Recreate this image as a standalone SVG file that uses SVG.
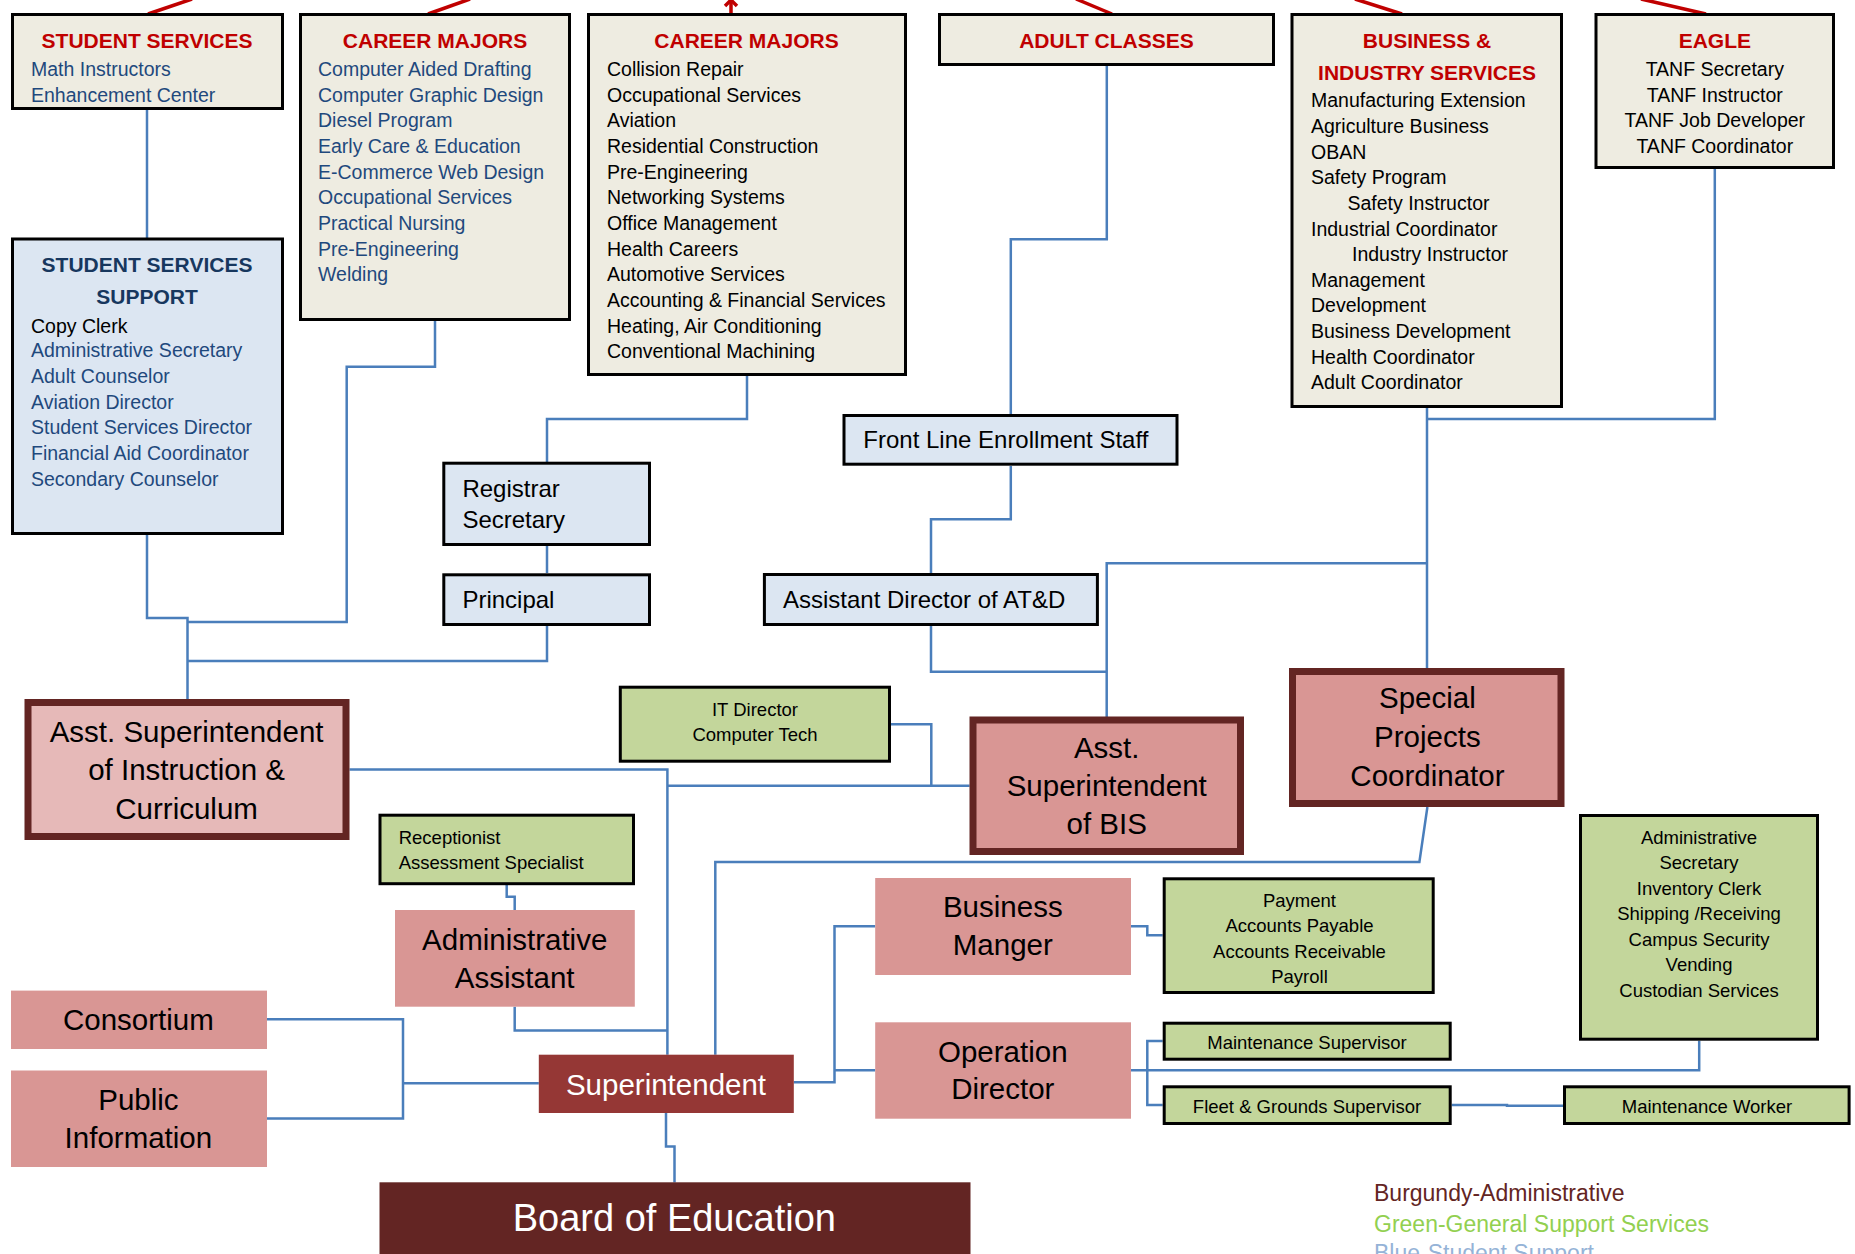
<svg xmlns="http://www.w3.org/2000/svg" width="1855" height="1254" viewBox="0 0 1855 1254">
  <style>
    text { font-family: "Liberation Sans", Arial, sans-serif; }
    .beige { fill: #EEECE1; stroke: #000; stroke-width: 3; }
    .blue { fill: #DCE6F2; stroke: #000; stroke-width: 3; }
    .green { fill: #C3D69B; stroke: #000; stroke-width: 3; }
    .bur { fill: #D99694; stroke: #632523; stroke-width: 7; }
    .pink { fill: #D99694; }
    .hdr { font-size: 21px; font-weight: bold; fill: #C00000; text-anchor: middle; }
    .item { font-size: 19.5px; fill: #000; }
    .navy { fill: #1F497D; }
    .mid { font-size: 24px; fill: #000; }
    .big { font-size: 29.5px; fill: #000; text-anchor: middle; }
    .sm { font-size: 18.5px; fill: #000; }
    .c { text-anchor: middle; }
    .conn { fill: none; stroke: #4A7EBB; stroke-width: 2.5; }
    .up { fill: none; stroke: #C00000; stroke-width: 3.5; }
  </style>

  <!-- red reporting lines leaving the top edge -->
  <g id="upper-links">
    <line class="up" x1="148" y1="14" x2="192" y2="-1"/>
    <line class="up" x1="428" y1="14" x2="470" y2="-1"/>
    <line class="up" x1="731" y1="14" x2="731" y2="-1"/>
    <polyline class="up" points="725,6 731,0 737,6"/>
    <line class="up" x1="1112" y1="14" x2="1076" y2="-1"/>
    <line class="up" x1="1402" y1="14" x2="1355" y2="-1"/>
    <line class="up" x1="1706" y1="14" x2="1641" y2="-1"/>
  </g>

  <!-- connectors -->
  <g id="connectors">
    <path class="conn" d="M147 110 V238"/>
    <path class="conn" d="M147 535 V618 H187.5 V700"/>
    <path class="conn" d="M187.5 622 H346.7 V366.7 H435 V321"/>
    <path class="conn" d="M187.5 661 H547 V626"/>
    <path class="conn" d="M547 462 V419 H747 V376"/>
    <path class="conn" d="M547 546 V573"/>
    <path class="conn" d="M1106.8 66 V239.3 H1010.8 V414"/>
    <path class="conn" d="M1010.8 466 V519.3 H931 V573"/>
    <path class="conn" d="M931 626 V671.7 H1106.7"/>
    <path class="conn" d="M1106.7 717 V563.3 H1427"/>
    <path class="conn" d="M1427 408 V668"/>
    <path class="conn" d="M1427 419 H1714.8 V169"/>
    <path class="conn" d="M349.5 769.5 H667.4 V1054.7"/>
    <path class="conn" d="M667.4 785.7 H969.6"/>
    <path class="conn" d="M891 724.3 H931.3 V785.7"/>
    <path class="conn" d="M1427.4 807 L1419.4 862 H715.3 V1054.7"/>
    <path class="conn" d="M506.7 885 V896.8 H514.7 V910"/>
    <path class="conn" d="M514.7 1006.7 V1030.5 H667.4"/>
    <path class="conn" d="M267 1019.2 H403 V1118.5 H267"/>
    <path class="conn" d="M403 1083.3 H538.8"/>
    <path class="conn" d="M666 1113 V1146.5 H674.5 V1182.5"/>
    <path class="conn" d="M793.8 1082.3 H834.5 V926.3 H875.2"/>
    <path class="conn" d="M834.5 1070.3 H875.2"/>
    <path class="conn" d="M1131 926.3 H1147.3 V935.3 H1162.7"/>
    <path class="conn" d="M1131 1070.3 H1699.2 V1040.7"/>
    <path class="conn" d="M1162.7 1041 H1147.3 V1105 H1162.7"/>
    <path class="conn" d="M1451.7 1105 H1507 V1105.7 H1563"/>
  </g>

  <g id="student-services">
    <rect class="beige" x="12.5" y="14.5" width="270" height="94"/>
    <text class="hdr" x="147" y="48">STUDENT SERVICES</text>
    <text class="item navy" x="31" y="76">Math Instructors</text>
    <text class="item navy" x="31" y="101.7">Enhancement Center</text>
  </g>

  <g id="career-majors-a">
    <rect class="beige" x="300.5" y="14.5" width="269" height="305"/>
    <text class="hdr" x="435" y="48">CAREER MAJORS</text>
    <g class="item navy">
      <text x="318" y="76">Computer Aided Drafting</text>
      <text x="318" y="101.7">Computer Graphic Design</text>
      <text x="318" y="127.4">Diesel Program</text>
      <text x="318" y="153">Early Care &amp; Education</text>
      <text x="318" y="178.7">E-Commerce Web Design</text>
      <text x="318" y="204.4">Occupational Services</text>
      <text x="318" y="230">Practical Nursing</text>
      <text x="318" y="255.7">Pre-Engineering</text>
      <text x="318" y="281.4">Welding</text>
    </g>
  </g>

  <g id="career-majors-b">
    <rect class="beige" x="588.5" y="14.5" width="317" height="360"/>
    <text class="hdr" x="746.5" y="48">CAREER MAJORS</text>
    <g class="item">
      <text x="607" y="76">Collision Repair</text>
      <text x="607" y="101.7">Occupational Services</text>
      <text x="607" y="127.4">Aviation</text>
      <text x="607" y="153">Residential Construction</text>
      <text x="607" y="178.7">Pre-Engineering</text>
      <text x="607" y="204.4">Networking Systems</text>
      <text x="607" y="230">Office Management</text>
      <text x="607" y="255.7">Health Careers</text>
      <text x="607" y="281.4">Automotive Services</text>
      <text x="607" y="307">Accounting &amp; Financial Services</text>
      <text x="607" y="332.7">Heating, Air Conditioning</text>
      <text x="607" y="358.4">Conventional Machining</text>
    </g>
  </g>

  <g id="adult-classes">
    <rect class="beige" x="939.5" y="14.5" width="334" height="50"/>
    <text class="hdr" x="1106.5" y="48">ADULT CLASSES</text>
  </g>

  <g id="business-industry">
    <rect class="beige" x="1292" y="14.5" width="269.5" height="392"/>
    <text class="hdr" x="1427" y="48">BUSINESS &amp;</text>
    <text class="hdr" x="1427" y="80">INDUSTRY SERVICES</text>
    <g class="item">
      <text x="1311" y="107.3">Manufacturing Extension</text>
      <text x="1311" y="133">Agriculture Business</text>
      <text x="1311" y="158.7">OBAN</text>
      <text x="1311" y="184.3">Safety Program</text>
      <text x="1347.5" y="210">Safety Instructor</text>
      <text x="1311" y="235.7">Industrial Coordinator</text>
      <text x="1352" y="261.3">Industry Instructor</text>
      <text x="1311" y="287">Management</text>
      <text x="1311" y="312.3">Development</text>
      <text x="1311" y="338">Business Development</text>
      <text x="1311" y="363.7">Health Coordinator</text>
      <text x="1311" y="389.3">Adult Coordinator</text>
    </g>
  </g>

  <g id="eagle">
    <rect class="beige" x="1596" y="14.5" width="237.5" height="153"/>
    <text class="hdr" x="1714.8" y="48">EAGLE</text>
    <g class="item c">
      <text x="1714.8" y="76">TANF Secretary</text>
      <text x="1714.8" y="101.7">TANF Instructor</text>
      <text x="1714.8" y="127.4">TANF Job Developer</text>
      <text x="1714.8" y="153">TANF Coordinator</text>
    </g>
  </g>

  <g id="student-services-support">
    <rect class="blue" x="12.5" y="239" width="270" height="294.5"/>
    <text class="hdr" x="147" y="272" style="fill:#17375E">STUDENT SERVICES</text>
    <text class="hdr" x="147" y="304" style="fill:#17375E">SUPPORT</text>
    <text class="item" x="31" y="332.7">Copy Clerk</text>
    <g class="item navy">
      <text x="31" y="357.3">Administrative Secretary</text>
      <text x="31" y="383">Adult Counselor</text>
      <text x="31" y="408.7">Aviation Director</text>
      <text x="31" y="434.3">Student Services Director</text>
      <text x="31" y="460">Financial Aid Coordinator</text>
      <text x="31" y="485.7">Secondary Counselor</text>
    </g>
  </g>

  <g id="registrar">
    <rect class="blue" x="443.8" y="463.2" width="205.7" height="81.3"/>
    <text class="mid" x="462.4" y="496.7">Registrar</text>
    <text class="mid" x="462.4" y="528">Secretary</text>
  </g>

  <g id="principal">
    <rect class="blue" x="443.8" y="574.8" width="205.7" height="49.7"/>
    <text class="mid" x="462.4" y="608.3">Principal</text>
  </g>

  <g id="front-line-enrollment">
    <rect class="blue" x="844" y="415.5" width="333" height="48.7"/>
    <text class="mid" x="863.3" y="448.3">Front Line Enrollment Staff</text>
  </g>

  <g id="assistant-director-atd">
    <rect class="blue" x="764.4" y="574.5" width="333" height="50"/>
    <text class="mid" x="783" y="608">Assistant Director of AT&amp;D</text>
  </g>

  <g id="asst-supt-instruction">
    <rect class="bur" x="28" y="702.5" width="318" height="134" style="fill:#E6B9B8"/>
    <text class="big" x="186.6" y="742">Asst. Superintendent</text>
    <text class="big" x="186.6" y="780">of Instruction &amp;</text>
    <text class="big" x="186.6" y="818.5">Curriculum</text>
  </g>

  <g id="asst-supt-bis">
    <rect class="bur" x="973" y="720" width="267.5" height="131.5"/>
    <text class="big" x="1106.7" y="758">Asst.</text>
    <text class="big" x="1106.7" y="796">Superintendent</text>
    <text class="big" x="1106.7" y="834">of BIS</text>
  </g>

  <g id="special-projects">
    <rect class="bur" x="1292.5" y="671.5" width="268.5" height="132"/>
    <text class="big" x="1427.4" y="708">Special</text>
    <text class="big" x="1427.4" y="746.7">Projects</text>
    <text class="big" x="1427.4" y="785.5">Coordinator</text>
  </g>

  <g id="it-director">
    <rect class="green" x="620.3" y="687.2" width="269.2" height="74"/>
    <text class="sm c" x="755" y="716">IT Director</text>
    <text class="sm c" x="755" y="740.7">Computer Tech</text>
  </g>

  <g id="receptionist">
    <rect class="green" x="380" y="815.2" width="253.5" height="68.5"/>
    <text class="sm" x="398.7" y="843.7">Receptionist</text>
    <text class="sm" x="398.7" y="868.6">Assessment Specialist</text>
  </g>

  <g id="administrative-assistant">
    <rect class="pink" x="395" y="910" width="239.8" height="96.7"/>
    <text class="big" x="514.7" y="950">Administrative</text>
    <text class="big" x="514.7" y="987.7">Assistant</text>
  </g>

  <g id="consortium">
    <rect class="pink" x="11" y="990.6" width="256" height="58.4"/>
    <text class="big" x="138.4" y="1029.8">Consortium</text>
  </g>

  <g id="public-information">
    <rect class="pink" x="11" y="1070.5" width="256" height="96.5"/>
    <text class="big" x="138.4" y="1109.7">Public</text>
    <text class="big" x="138.4" y="1148">Information</text>
  </g>

  <g id="superintendent">
    <rect x="538.8" y="1054.7" width="255" height="58.3" fill="#953735"/>
    <text class="big" x="666" y="1095" style="fill:#fff">Superintendent</text>
  </g>

  <g id="board-of-education">
    <rect x="379.5" y="1182.3" width="591" height="80" fill="#632523"/>
    <text x="674.3" y="1231" text-anchor="middle" style="font-size:38px;fill:#fff">Board of Education</text>
  </g>

  <g id="business-manager">
    <rect class="pink" x="875.2" y="878" width="255.8" height="97"/>
    <text class="big" x="1002.8" y="916.7">Business</text>
    <text class="big" x="1002.8" y="955">Manger</text>
  </g>

  <g id="operation-director">
    <rect class="pink" x="875.2" y="1022.3" width="255.8" height="96.4"/>
    <text class="big" x="1002.8" y="1061.7">Operation</text>
    <text class="big" x="1002.8" y="1099.3">Director</text>
  </g>

  <g id="finance-staff">
    <rect class="green" x="1164.2" y="878.8" width="269" height="113.7"/>
    <g class="sm c">
      <text x="1299.5" y="907.3">Payment</text>
      <text x="1299.5" y="932.3">Accounts Payable</text>
      <text x="1299.5" y="957.7">Accounts Receivable</text>
      <text x="1299.5" y="983.3">Payroll</text>
    </g>
  </g>

  <g id="operations-staff">
    <rect class="green" x="1580.5" y="815.5" width="237" height="223.7"/>
    <g class="sm c">
      <text x="1699" y="843.5">Administrative</text>
      <text x="1699" y="869">Secretary</text>
      <text x="1699" y="894.5">Inventory Clerk</text>
      <text x="1699" y="920">Shipping /Receiving</text>
      <text x="1699" y="945.7">Campus Security</text>
      <text x="1699" y="971.3">Vending</text>
      <text x="1699" y="996.7">Custodian Services</text>
    </g>
  </g>

  <g id="maintenance-supervisor">
    <rect class="green" x="1164.2" y="1023.2" width="286" height="36"/>
    <text class="sm c" x="1307" y="1049">Maintenance Supervisor</text>
  </g>

  <g id="fleet-grounds">
    <rect class="green" x="1164.2" y="1086.8" width="286" height="36.7"/>
    <text class="sm c" x="1307" y="1113">Fleet &amp; Grounds Supervisor</text>
  </g>

  <g id="maintenance-worker">
    <rect class="green" x="1564.5" y="1086.8" width="284.6" height="36.7"/>
    <text class="sm c" x="1707" y="1113">Maintenance Worker</text>
  </g>

  <g id="legend" style="font-size:23px">
    <text x="1374" y="1200.7" fill="#632523">Burgundy-Administrative</text>
    <text x="1374" y="1232" fill="#92D050">Green-General Support Services</text>
    <text x="1374" y="1261" fill="#95B3D7">Blue-Student Support</text>
  </g>
</svg>
